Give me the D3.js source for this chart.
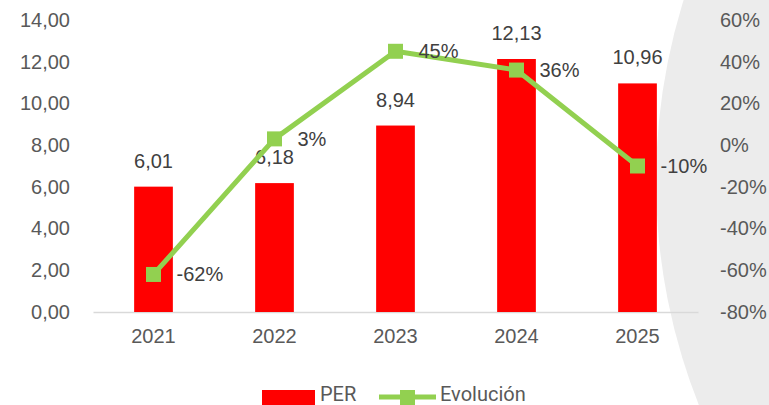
<!DOCTYPE html>
<html>
<head>
<meta charset="utf-8">
<script src="https://cdn.jsdelivr.net/npm/d3@7"></script>
<style>
  body { margin: 0; background: #fff; }
  svg { display: block; }
</style>
</head>
<body>
<svg id="chart" width="769" height="405"></svg>
<script>
const years = ["2021", "2022", "2023", "2024", "2025"];
const perValues = [6.01, 6.18, 8.94, 12.13, 10.96];
const evolucion = [-0.62, 0.03, 0.45, 0.36, -0.10];
const leftTicks = [0, 2, 4, 6, 8, 10, 12, 14];
const rightTicks = [-0.8, -0.6, -0.4, -0.2, 0, 0.2, 0.4, 0.6];

function drawChart() {
    const svg = d3.select("#chart");
    const width = 769, height = 405;
    const margin = {top: 20, right: 71, bottom: 93, left: 93};
    const fmtNum = (v) => v.toFixed(2).replace(".", ",");
    const fmtPct = (v) => Math.round(v * 100) + "%";

    // decorative grey disc on the right
    svg.append("circle")
        .attr("cx", 1263)
        .attr("cy", 181)
        .attr("r", 607)
        .attr("fill", "#ececec");

    const x = d3.scaleBand()
        .domain(years)
        .range([margin.left, width - margin.right])
        .paddingInner(0.68)
        .paddingOuter(0.34);
    const yL = d3.scaleLinear().domain([0, 14]).range([height - margin.bottom, margin.top]);
    const yR = d3.scaleLinear().domain([-0.8, 0.6]).range([height - margin.bottom, margin.top]);

    // left axis
    const axL = svg.append("g")
        .attr("transform", `translate(${margin.left}, 0)`)
        .call(d3.axisLeft(yL).tickValues(leftTicks).tickFormat(fmtNum).tickSize(0).tickPadding(23));
    axL.select(".domain").remove();

    // right axis
    const axR = svg.append("g")
        .attr("transform", `translate(${width - margin.right}, 0)`)
        .call(d3.axisRight(yR).tickValues(rightTicks).tickFormat(fmtPct).tickSize(0).tickPadding(22));
    axR.select(".domain").remove();

    // bottom axis
    const axB = svg.append("g")
        .attr("transform", `translate(0, ${height - margin.bottom})`)
        .call(d3.axisBottom(x).tickSize(0).tickPadding(17));
    axB.select(".domain").attr("stroke", "#d9d9d9").attr("stroke-width", 1.5);

    svg.selectAll(".tick text")
        .style("font-size", "20px")
        .style("font-family", "'Liberation Sans', Arial, sans-serif")
        .attr("fill", "#595959");

    // bars
    svg.append("g")
        .selectAll("rect")
        .data(perValues)
        .join("rect")
        .attr("x", (d, i) => x(years[i]))
        .attr("y", (d) => yL(d))
        .attr("width", x.bandwidth())
        .attr("height", (d) => yL(0) - yL(d))
        .attr("fill", "#ff0000");

    svg.append("g")
        .selectAll("text")
        .data(perValues)
        .join("text")
        .attr("x", (d, i) => x(years[i]) + x.bandwidth() / 2)
        .attr("y", (d) => yL(d) - 19)
        .attr("text-anchor", "middle")
        .style("font-size", "20px")
        .style("font-family", "'Liberation Sans', Arial, sans-serif")
        .attr("fill", "#404040")
        .text((d) => fmtNum(d));

    // line
    const line = d3.line()
        .x((d, i) => x(years[i]) + x.bandwidth() / 2)
        .y((d) => yR(d));

    svg.append("path")
        .datum(evolucion)
        .attr("fill", "none")
        .attr("stroke", "#92d050")
        .attr("stroke-width", 5)
        .attr("stroke-linejoin", "round")
        .attr("d", line);

    svg.append("g")
        .selectAll("rect")
        .data(evolucion)
        .join("rect")
        .attr("x", (d, i) => x(years[i]) + x.bandwidth() / 2 - 7.5)
        .attr("y", (d) => yR(d) - 7.5)
        .attr("width", 15)
        .attr("height", 15)
        .attr("fill", "#92d050");

    svg.append("g")
        .selectAll("text")
        .data(evolucion)
        .join("text")
        .attr("x", (d, i) => x(years[i]) + x.bandwidth() / 2 + 23)
        .attr("y", (d) => yR(d) + 7)
        .style("font-size", "20px")
        .style("font-family", "'Liberation Sans', Arial, sans-serif")
        .attr("fill", "#404040")
        .text((d) => fmtPct(d));

    // legend
    const legend = svg.append("g")
        .style("font-size", "20px")
        .style("font-family", "Roboto, sans-serif")
        .attr("fill", "#595959");

    legend.append("rect")
        .attr("x", 262).attr("y", 390)
        .attr("width", 53).attr("height", 15)
        .attr("fill", "#ff0000");
    legend.append("text")
        .attr("x", 320).attr("y", 401)
        .text("PER");

    legend.append("line")
        .attr("x1", 379).attr("x2", 436)
        .attr("y1", 397).attr("y2", 397)
        .attr("stroke", "#92d050")
        .attr("stroke-width", 5);
    legend.append("rect")
        .attr("x", 400).attr("y", 390)
        .attr("width", 15).attr("height", 15)
        .attr("fill", "#92d050");
    legend.append("text")
        .attr("x", 440).attr("y", 401)
        .text("Evolución");
}

drawChart();
</script>
</body>
</html>
